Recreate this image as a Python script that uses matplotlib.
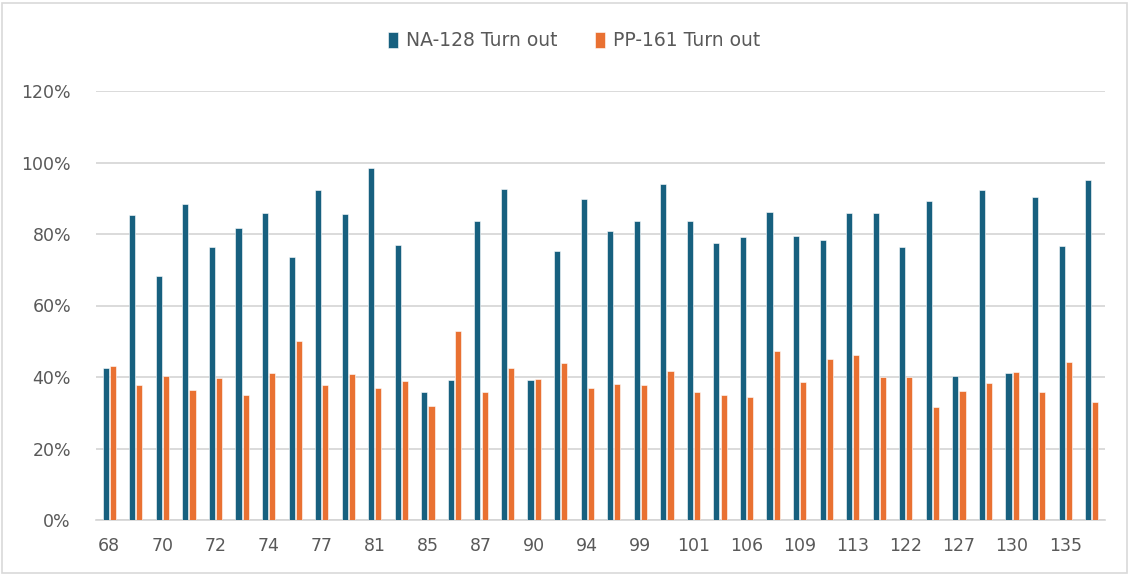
import numpy as np
import matplotlib.pyplot as plt
from matplotlib.patches import Rectangle
from matplotlib.ticker import FuncFormatter

# categories (only every other label is shown on the axis)
cats = ["68", "69", "70", "71", "72", "73", "74", "76", "77", "79",
        "81", "83", "85", "86", "87", "88", "90", "92", "94", "97",
        "99", "100", "101", "104", "106", "107", "109", "111", "113", "118",
        "122", "125", "127", "128", "130", "133", "135", "137"]

na128 = [42.4, 85.4, 68.3, 88.5, 76.4, 81.8, 85.8, 73.7, 92.4, 85.5,
         98.4, 77.0, 35.8, 39.1, 83.6, 92.6, 39.1, 75.3, 89.9, 80.7,
         83.6, 94.0, 83.5, 77.4, 79.3, 86.2, 79.4, 78.4, 86.0, 86.0,
         76.4, 89.3, 40.2, 92.4, 41.2, 90.4, 76.7, 95.0]

pp161 = [43.1, 37.8, 40.4, 36.3, 39.7, 35.1, 41.2, 50.2, 37.8, 40.8,
         36.9, 38.8, 32.0, 52.8, 35.8, 42.4, 39.4, 43.9, 36.9, 38.0,
         37.7, 41.6, 35.8, 35.0, 34.3, 47.2, 38.5, 45.0, 46.1, 39.9,
         39.9, 31.6, 36.0, 38.2, 41.5, 35.8, 44.2, 33.1]

blue = "#17607F"
orange = "#E97132"
txt = "#595959"

fig = plt.figure(figsize=(11.3, 5.75), dpi=100)
ax = fig.add_axes([96/1130, 55/575, 1009/1130, 429/575])

x = np.arange(len(cats))
w = 0.23
ax.bar(x - 0.135, na128, w, color=blue, edgecolor="white", linewidth=0.4,
       label="NA-128 Turn out", zorder=3)
ax.bar(x + 0.135, pp161, w, color=orange, edgecolor="white", linewidth=0.4,
       label="PP-161 Turn out", zorder=3)

ax.set_xlim(-0.5, len(cats) - 0.5)
ax.set_ylim(0, 120)
ax.set_yticks(np.arange(0, 121, 20))
ax.yaxis.set_major_formatter(FuncFormatter(lambda v, p: f"{int(v)}%"))
ax.set_xticks(x[::2])
ax.set_xticklabels(cats[::2])

ax.grid(axis="y", color="#D4D4D4", linewidth=1.2, zorder=0)
for s in ["top", "right", "left"]:
    ax.spines[s].set_visible(False)
ax.spines["bottom"].set_color("#D4D4D4")
ax.spines["bottom"].set_linewidth(1.2)
ax.tick_params(axis="both", length=0, labelsize=12.5, colors=txt)
ax.tick_params(axis="y", pad=18)
ax.tick_params(axis="x", pad=12)

fig.legend(loc="center", bbox_to_anchor=(0.508, 1 - 41/575), ncol=2,
           frameon=False, fontsize=13.5, handlelength=0.55, handleheight=1.0,
           handletextpad=0.4, columnspacing=2.0, labelcolor=txt)

# outer chart border
fig.patches.append(Rectangle((2/1130, 2/575), 1125/1130, 570/575,
                             transform=fig.transFigure, fill=False,
                             edgecolor="#D9D9D9", linewidth=1.2))

plt.savefig("out.png", dpi=100)
